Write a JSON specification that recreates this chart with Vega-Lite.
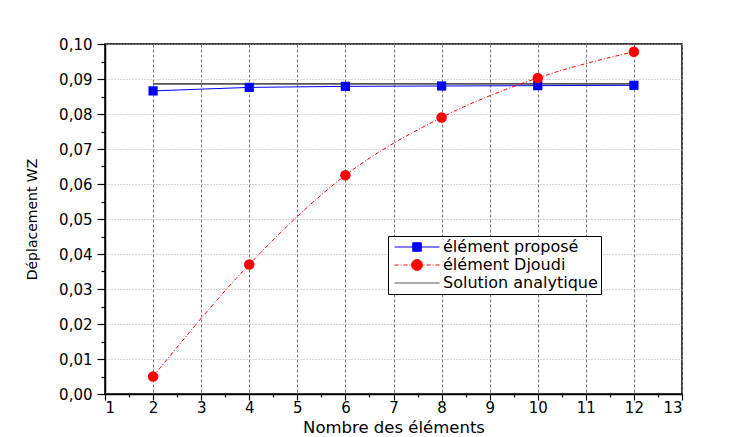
{
  "$schema": "https://vega.github.io/schema/vega-lite/v6.json",
  "autosize": "none",
  "width": 577,
  "height": 350,
  "padding": {"left": 105, "top": 44, "right": 61, "bottom": 43},
  "background": "white",
  "config": {
    "font": "DejaVu Sans",
    "view": {"stroke": "black", "strokeWidth": 1.5},
    "axis": {
      "domainColor": "black", "domainWidth": 1.5,
      "tickColor": "black", "tickWidth": 1.2,
      "labelFont": "DejaVu Sans", "labelFontSize": 15, "labelColor": "black",
      "titleFont": "DejaVu Sans", "titleFontSize": 16, "titleFontWeight": "normal", "titleColor": "black",
      "labelOverlap": false
    },
    "legend": {
      "orient": "none",
      "legendX": 283,
      "legendY": 192,
      "strokeColor": "black",
      "fillColor": "white",
      "padding": 3,
      "symbolSize": 81,
      "symbolStrokeWidth": 1,
      "symbolOffset": 18,
      "labelOffset": 18,
      "labelFont": "DejaVu Sans",
      "labelFontSize": 16,
      "labelColor": "black",
      "labelLimit": 300,
      "rowPadding": 2,
      "symbolOpacity": 1
    }
  },
  "datasets": {
    "pts": [
      {"n": 2, "w": 0.0866, "series": "élément proposé"},
      {"n": 4, "w": 0.0876, "series": "élément proposé"},
      {"n": 6, "w": 0.0879, "series": "élément proposé"},
      {"n": 8, "w": 0.0880, "series": "élément proposé"},
      {"n": 10, "w": 0.0881, "series": "élément proposé"},
      {"n": 12, "w": 0.0882, "series": "élément proposé"},
      {"n": 2, "w": 0.0050, "series": "élément Djoudi"},
      {"n": 4, "w": 0.0370, "series": "élément Djoudi"},
      {"n": 6, "w": 0.0625, "series": "élément Djoudi"},
      {"n": 8, "w": 0.0790, "series": "élément Djoudi"},
      {"n": 10, "w": 0.0903, "series": "élément Djoudi"},
      {"n": 12, "w": 0.0978, "series": "élément Djoudi"},
      {"n": 2, "w": 0.0886, "series": "Solution analytique"},
      {"n": 4, "w": 0.0886, "series": "Solution analytique"},
      {"n": 6, "w": 0.0886, "series": "Solution analytique"},
      {"n": 8, "w": 0.0886, "series": "Solution analytique"},
      {"n": 10, "w": 0.0886, "series": "Solution analytique"},
      {"n": 12, "w": 0.0886, "series": "Solution analytique"}
    ]
  },
  "data": {"name": "pts"},
  "encoding": {
    "x": {
      "field": "n", "type": "quantitative",
      "scale": {"domain": [1, 13], "nice": false, "zero": false},
      "axis": {
        "title": "Nombre des éléments",
        "titleFontSize": 16.5,
        "values": [1,1.5,2,2.5,3,3.5,4,4.5,5,5.5,6,6.5,7,7.5,8,8.5,9,9.5,10,10.5,11,11.5,12,12.5,13],
        "labelExpr": "datum.value % 1 == 0 ? format(datum.value, 'd') : ''",
        "tickSize": {"condition": {"test": "datum.value % 1 != 0", "value": 3}, "value": 6},
        "labelPadding": 0,
        "titlePadding": 4,
        "grid": true,
        "gridColor": "#777",
        "gridDash": [3, 2],
        "gridWidth": 1,
        "gridOpacity": {"condition": {"test": "datum.value % 1 != 0", "value": 0}, "value": 1}
      }
    },
    "y": {
      "field": "w", "type": "quantitative",
      "scale": {"domain": [0, 0.1], "nice": false},
      "axis": {
        "title": "Déplacement WZ",
        "titleFontSize": 14,
        "values": [0,0.005,0.01,0.015,0.02,0.025,0.03,0.035,0.04,0.045,0.05,0.055,0.06,0.065,0.07,0.075,0.08,0.085,0.09,0.095,0.1],
        "labelExpr": "round(datum.value*1000) % 10 == 0 ? replace(format(datum.value, '.2f'), '.', ',') : ''",
        "tickSize": {"condition": {"test": "round(datum.value*1000) % 10 != 0", "value": 4}, "value": 8},
        "labelPadding": 5,
        "titlePadding": 19,
        "grid": true,
        "gridColor": "#aaa",
        "gridDash": [1, 2],
        "gridWidth": 1,
        "gridOpacity": {"condition": {"test": "round(datum.value*1000) % 10 != 0", "value": 0}, "value": 1}
      }
    }
  },
  "layer": [
    {
      "transform": [{"filter": "datum.series == 'Solution analytique'"}],
      "mark": {"type": "line", "color": "#555555", "strokeWidth": 1.6}
    },
    {
      "transform": [{"filter": "datum.series == 'élément proposé'"}],
      "mark": {"type": "line", "color": "#0000ff", "strokeWidth": 1}
    },
    {
      "transform": [{"filter": "datum.series == 'élément Djoudi'"}],
      "mark": {"type": "line", "color": "#ff0000", "strokeWidth": 1, "strokeDash": [4, 2, 1, 2], "interpolate": "monotone"}
    },
    {
      "transform": [{"filter": "datum.series == 'élément proposé'"}],
      "mark": {"type": "point", "shape": "square", "filled": true, "color": "#0000ff", "size": 85, "opacity": 1}
    },
    {
      "transform": [{"filter": "datum.series == 'élément Djoudi'"}],
      "mark": {"type": "point", "shape": "circle", "filled": true, "color": "#ff0000", "size": 110, "opacity": 1}
    },
    {
      "mark": {"type": "point", "filled": true, "opacity": 0, "size": 1},
      "encoding": {
        "shape": {
          "field": "series", "type": "nominal",
          "scale": {
            "domain": ["élément proposé", "élément Djoudi", "Solution analytique"],
            "range": [
              "M-5,0H5M-0.95,-0.95H0.95V0.95H-0.95Z",
              "M-5,0H-4.1M-3.65,0H-3.45M-3,0H-2.1M-1.65,0H-1.45M1.2,0A1.2,1.2 0 1,1 -1.2,0A1.2,1.2 0 1,1 1.2,0ZM1.45,0H1.65M2.1,0H3M3.45,0H3.65M4.1,0H5",
              "M-5,0H5"
            ]
          },
          "legend": {"title": null}
        },
        "fill": {
          "field": "series", "type": "nominal",
          "scale": {"domain": ["élément proposé", "élément Djoudi", "Solution analytique"], "range": ["#0000ff", "#ff0000", "#555555"]},
          "legend": {"title": null}
        },
        "stroke": {
          "field": "series", "type": "nominal",
          "scale": {"domain": ["élément proposé", "élément Djoudi", "Solution analytique"], "range": ["#0000ff", "#ff0000", "#555555"]},
          "legend": {"title": null}
        }
      }
    }
  ]
}
